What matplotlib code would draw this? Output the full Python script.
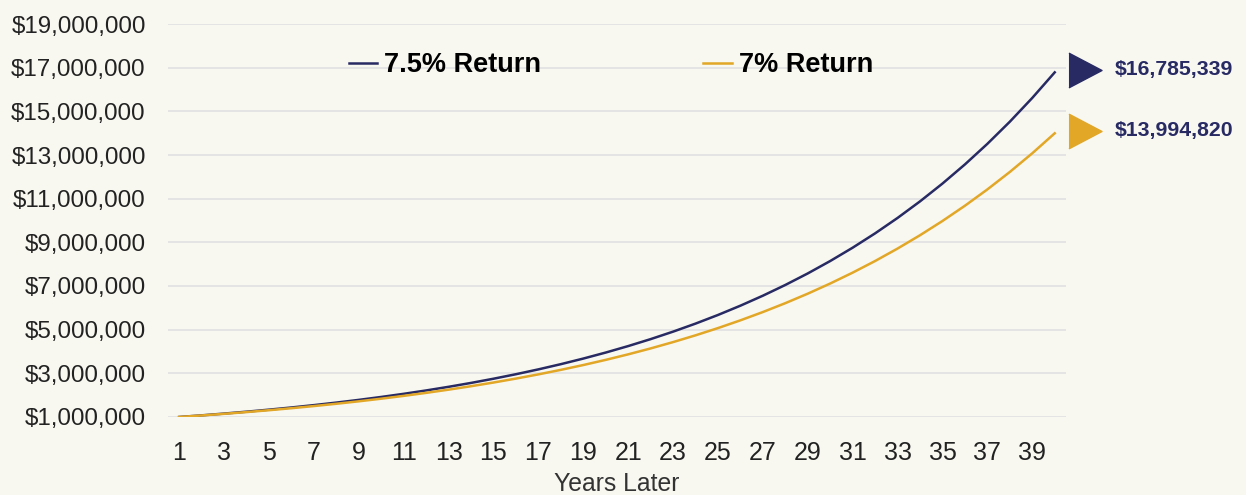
import matplotlib
matplotlib.use("Agg")
from matplotlib import pyplot as plt
from matplotlib.ticker import FuncFormatter

plt.rcParams['font.family'] = ['Liberation Sans', 'DejaVu Sans']

# years 1..40 and portfolio value for each return
years = list(range(1, 41))
ret_75 = [1000000, 1075000, 1155625, 1242297, 1335469, 1435629, 1543302, 1659049,
          1783478, 1917239, 2061032, 2215609, 2381780, 2560413, 2752444, 2958877,
          3180793, 3419353, 3675804, 3951489, 4247851, 4566440, 4908923, 5277092,
          5672874, 6098340, 6555715, 7047394, 7575948, 8144144, 8754955, 9411577,
          10117445, 10876253, 11691972, 12568870, 13511535, 14524900, 15614268, 16785339]
ret_7 = [1000000, 1070000, 1144900, 1225043, 1310796, 1402552, 1500730, 1605781,
         1718186, 1838459, 1967151, 2104852, 2252192, 2409845, 2578534, 2759032,
         2952164, 3158815, 3379932, 3616528, 3869684, 4140562, 4430402, 4740530,
         5072367, 5427433, 5807353, 6213868, 6648838, 7114257, 7612255, 8145113,
         8715271, 9325340, 9978114, 10676581, 11423942, 12223618, 13079271, 13994820]
labels = ['7.5% Return', '7% Return']
y_ticks = list(range(1000000, 19000001, 2000000))
x_ticks = list(range(1, 40, 2))

bg = '#F8F7F0'
navy = '#272A63'
gold = '#E2A726'

fig = plt.figure(figsize=(12.46, 4.95), dpi=100, facecolor=bg)
ax = fig.add_axes([0.1348, 0.1576, 0.7207, 0.7939], facecolor=bg)

ax.plot(years, ret_75, color=navy, lw=1.8, label=labels[0])
ax.plot(years, ret_7, color=gold, lw=1.8, label=labels[1])

ax.set_xlim(0.5, 40.5)
ax.set_ylim(1000000, 19000000)
ax.set_yticks(y_ticks)
ax.set_xticks(x_ticks)
ax.yaxis.set_major_formatter(FuncFormatter(lambda v, p: '${:,.0f}'.format(v)))
ax.grid(axis='y', color='#E3E3E3', lw=1.3)
ax.set_axisbelow(True)
for s in ax.spines.values():
    s.set_visible(False)
ax.tick_params(axis='y', length=0, labelsize=17.4, pad=16, colors='#222222')
ax.tick_params(axis='x', length=0, labelsize=18, pad=17, colors='#222222')
ax.set_xlabel('Years Later', fontsize=17.8, color='#333333', labelpad=5)

leg = ax.legend(loc='center', bbox_to_anchor=(0.493, 0.895), ncol=2, frameon=False,
                handlelength=1.05, handletextpad=0.25, columnspacing=6.0,
                prop={'weight': 'bold', 'size': 19.5})

# end value markers to the right of the plot
tri = [(-1, -1.05), (1, 0), (-1, 1.05)]
tr = ax.get_yaxis_transform()
for vals, c in [(ret_75, navy), (ret_7, gold)]:
    ax.plot([1.021], [vals[-1] + 120000], marker=tri, ms=25, color=c, transform=tr,
            clip_on=False, ls='none')
    ax.text(1.054, vals[-1] + 120000, '${:,}'.format(vals[-1]), transform=tr, color=navy,
            fontsize=15.3, fontweight='bold', va='center', ha='left')

fig.savefig('out.png', dpi=100, facecolor=bg)
